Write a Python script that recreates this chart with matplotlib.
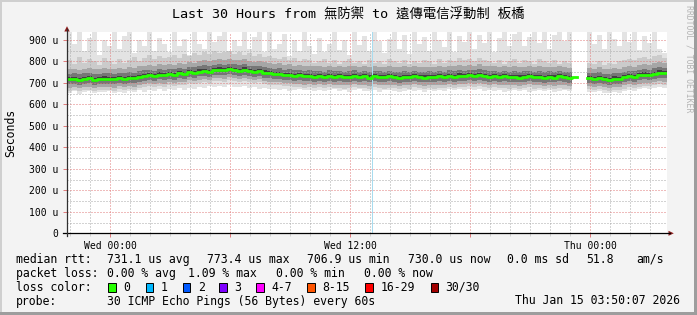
import numpy as np
import matplotlib
matplotlib.use("Agg")
import matplotlib.pyplot as plt
from matplotlib.patches import Rectangle, Polygon

# ---- data ----
# 15 minute bins, first bin starts Tue 21:50 (hours relative to Wed 00:00)
t_start = -2 - 10 / 60
bin_h = 0.25
nan = np.nan

median = [716, 719, 714, 718, 721, 715, 717, 720,
          719, 716, 722, 718, 724, 721, 729, 733,
          736, 731, 739, 735, 741, 737, 744, 740,
          750, 746, 753, 757, 752, 759, 762, 758,
          764, 760, 757, 762, 754, 751, 755, 748,
          744, 740, 743, 736, 738, 733, 735, 730,
          733, 729, 731, 727, 732, 728, 730, 726,
          729, 732, 727, 730, 725, 731, 728, 726,
          730, 727, 724, 729, 726, 731, 727, 725,
          728, 726, 730, 727, 732, 729, 734, 731,
          736, 733, 738, 732, 729, 731, 727, 730,
          726, 729, 725, 728, 731, 726, 729, 724,
          728, 725, 730, 726, 723, 727, nan, nan,
          722, 719, 724, 717, 715, 720, 718, 726,
          731, 728, 735, 739, 736, 743, 748, 744]

smoke_max = [940, 880, 940, 850, 910, 940, 830, 900, 870, 940,
             860, 920, 940, 840, 900, 870, 940, 850, 910, 880,
             845, 940, 870, 905, 830, 940, 880, 860, 940, 890,
             920, 940, 850, 900, 870, 940, 860, 915, 940, 845,
             940, 860, 880, 930, 825, 900, 850, 940, 870, 835,
             910, 845, 880, 940, 855, 900, 830, 940, 875, 920,
             850, 940, 895, 840, 905, 940, 860, 925, 835, 940,
             880, 915, 850, 940, 900, 865, 940, 845, 920, 890,
             940, 860, 925, 885, 940, 845, 910, 940, 870, 930,
             940, 870, 915, 940, 885, 940, 860, 925, 940, 895,
             940, 905, nan, nan, 940, 880, 925, 860, 940, 905,
             870, 940, 890, 940, 855, 920, 885, 940, 860, 840]

smoke_high = [805, 790, 820, 795, 810, 800, 785, 815, 800, 790,
              810, 795, 805, 820, 800, 815, 830, 810, 825, 815,
              820, 830, 815, 835, 825, 840, 830, 845, 835, 850,
              840, 845, 850, 835, 845, 830, 840, 825, 835, 820,
              825, 815, 810, 820, 805, 815, 800, 810, 805, 795,
              800, 810, 795, 805, 790, 800, 810, 795, 800, 790,
              805, 795, 800, 790, 810, 800, 795, 805, 790, 800,
              795, 805, 800, 790, 810, 795, 805, 800, 815, 805,
              810, 800, 815, 805, 800, 795, 805, 790, 800, 810,
              795, 805, 800, 790, 810, 800, 795, 805, 790, 800,
              795, 800, nan, nan, 795, 790, 800, 785, 795, 790,
              800, 805, 810, 805, 815, 820, 810, 825, 830, 815]

smoke_min = [655, 662, 650, 658, 664, 652, 660, 656, 663, 651,
             659, 654, 662, 657, 665, 660, 668, 662, 670, 664,
             672, 666, 675, 669, 678, 673, 681, 676, 684, 679,
             686, 681, 688, 683, 679, 684, 676, 680, 673, 677,
             670, 674, 667, 671, 664, 668, 672, 665, 669, 662,
             667, 661, 665, 670, 663, 668, 660, 666, 671, 664,
             662, 667, 660, 665, 669, 663, 658, 664, 668, 661,
             665, 660, 667, 662, 669, 664, 670, 666, 672, 667,
             673, 668, 670, 664, 668, 662, 666, 660, 664, 668,
             661, 666, 660, 664, 668, 662, 665, 659, 663, 667,
             661, 664, nan, nan, 660, 656, 662, 654, 652, 658,
             655, 663, 668, 664, 671, 675, 670, 678, 682, 677]

vrule_hour = 13.1

xtick_hours = [0, 6, 12, 18, 24]
xtick_labels = ["Wed 00:00", "", "Wed 12:00", "", "Thu 00:00"]
ytick_vals = [0, 100, 200, 300, 400, 500, 600, 700, 800, 900]
ytick_labels = ["0", "100 u", "200 u", "300 u", "400 u", "500 u",
                "600 u", "700 u", "800 u", "900 u"]

title = "Last 30 Hours from 無防禦 to 遠傳電信浮動制 板橋"

rtt_items = ["731.1 us avg", "773.4 us max", "706.9 us min",
             "730.0 us now", "0.0 ms sd", "51.8", "am/s"]
loss_items = ["0.00 % avg", "1.09 % max", "0.00 % min", "0.00 % now"]
loss_labels = ["0", "1", "2", "3", "4-7", "8-15", "16-29", "30/30"]
loss_colors = ["#26ff00", "#00b8ff", "#0059ff", "#7e00ff",
               "#ff00ff", "#ff5500", "#ff0000", "#a10000"]
probe_text = "30 ICMP Echo Pings (56 Bytes) every 60s"
stamp = "Thu Jan 15 03:50:07 2026"

# ---- layout ----
W, H = 697, 315
fig = plt.figure(figsize=(W / 100, H / 100), dpi=100, facecolor="#f3f3f3")

left, right, top, bottom = 67, 667, 32, 233.3
ax = fig.add_axes([left / W, 1 - bottom / H, (right - left) / W, (bottom - top) / H])
ax.set_facecolor("white")

med = np.array(median, dtype=float)
edges = t_start + bin_h * np.arange(len(med) + 1)


def ext(a):
    a = np.asarray(a, dtype=float)
    return np.append(a, a[-1])


ax.fill_between(edges, ext(smoke_min), ext(smoke_max), step="post", color="#e3e3e3", lw=0, zorder=1)
ax.fill_between(edges, ext(med - 52), ext(smoke_high), step="post", color="#cbcbcb", lw=0, zorder=1.1)
ax.fill_between(edges, ext(med - 38), ext(med + 48), step="post", color="#a6a6a6", lw=0, zorder=1.2)
ax.fill_between(edges, ext(med - 23), ext(med + 26), step="post", color="#767676", lw=0, zorder=1.3)
ax.fill_between(edges, ext(med - 9), ext(med + 10), step="post", color="#404040", lw=0, zorder=1.4)

# grid (rrdtool draws it over the smoke)
dot = (0, (1, 2))
major_c, minor_c = "#e07a7a", "#a8a8a8"
for h in range(-2, 28):
    c = major_c if h % 6 == 0 else minor_c
    ax.axvline(h, color=c, lw=0.72, ls=dot, zorder=3)
for v in range(50, 950, 50):
    c = major_c if v % 100 == 0 else minor_c
    ax.axhline(v, color=c, lw=0.72, ls=dot, zorder=3)

ax.axvline(vrule_hour, color="#a8dcef", lw=0.72, zorder=3.5)

ax.step(edges, ext(med), where="post", color="#26ff00", lw=2.0, zorder=5)

ax.set_xlim(t_start, t_start + bin_h * len(med))
ax.set_ylim(0, 937)
for s in ax.spines.values():
    s.set_visible(False)

mono = "DejaVu Sans Mono"
ax.set_xticks(xtick_hours)
ax.set_xticklabels(xtick_labels, family=mono, fontsize=7)
ax.set_xticks(range(-2, 28), minor=True)
ax.set_yticks(ytick_vals)
ax.set_yticklabels(ytick_labels, family=mono, fontsize=7)
ax.tick_params(axis="x", which="major", length=3, width=0.7, color=major_c, pad=2.5)
ax.tick_params(axis="x", which="minor", length=2, width=0.7, color="#d0d0d0")
ax.tick_params(axis="y", which="major", length=3, width=0.7, color=major_c, pad=3.5)

# ---- overlay in pixel coordinates ----
ov = fig.add_axes([0, 0, 1, 1], facecolor="none")
ov.set_xlim(0, W)
ov.set_ylim(H, 0)
ov.axis("off")

# frame shading
ov.add_patch(Rectangle((0, 0), W, 2, color="#cfcfcf", lw=0))
ov.add_patch(Rectangle((0, 0), 2, H, color="#cfcfcf", lw=0))
ov.add_patch(Rectangle((0, H - 3), W, 3, color="#9d9d9d", lw=0))
ov.add_patch(Rectangle((W - 3, 0), 3, H, color="#9d9d9d", lw=0))

# axes with arrows
ov.plot([63, 670], [bottom, bottom], color="black", lw=0.9)
ov.plot([left, left], [bottom + 3, 29], color="#303030", lw=0.9)
ov.add_patch(Polygon([[668.5, 230.8], [673.8, bottom], [668.5, 235.8]], color="#8b1a1a", lw=0))
ov.add_patch(Polygon([[64.3, 31.5], [left, 26.2], [69.7, 31.5]], color="#8b1a1a", lw=0))

ov.text(348, 15, title, ha="center", va="center", fontsize=9.6,
        family=[mono, "Noto Sans CJK TC"])
ov.text(11, 132.5, "Seconds", rotation=90, ha="center", va="center",
        fontsize=8.3, family=mono)
ov.text(688.5, 5, "RRDTOOL / TOBI OETIKER", rotation=-90, ha="center", va="top",
        fontsize=5.9, family=mono, color="#b4b4b4")

fs = 8.3
row_y = [259.3, 273.3, 287.3, 301]
ov.text(16, row_y[0], "median rtt:", va="center", fontsize=fs, family=mono)
for xp, s in zip([107.3, 206.7, 306.7, 408.3, 507.3, 586.7, 636], rtt_items):
    ov.text(xp, row_y[0], s, va="center", fontsize=fs, family=mono)

ov.text(16, row_y[1], "packet loss:", va="center", fontsize=fs, family=mono)
for xp, s in zip([107.3, 188.5, 276.0, 364.0], loss_items):
    ov.text(xp, row_y[1], s, va="center", fontsize=fs, family=mono)

ov.text(16, row_y[2], "loss color:", va="center", fontsize=fs, family=mono)
box_x = [108.3, 145.7, 182.7, 219.3, 256.3, 307, 365.3, 430.7]
for bx, lab, col in zip(box_x, loss_labels, loss_colors):
    ov.add_patch(Rectangle((bx, 283.2), 7.5, 8.5, facecolor=col, edgecolor="black", lw=0.7))
    ov.text(bx + 15, row_y[2], lab, va="center", fontsize=fs, family=mono)

ov.text(16, row_y[3], "probe:", va="center", fontsize=fs, family=mono)
ov.text(107.3, row_y[3], probe_text, va="center", fontsize=fs, family=mono)
ov.text(680, row_y[3], stamp, ha="right", va="center", fontsize=fs, family=mono)

fig.savefig("out.png", dpi=100, facecolor=fig.get_facecolor())
